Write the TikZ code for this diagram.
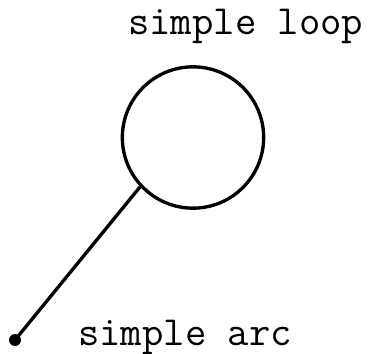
\documentclass[tikz,border=0pt]{standalone}
\usepackage{fontspec}
\usetikzlibrary{positioning}

\begin{document}
\begin{tikzpicture}[x=0.75pt,y=-0.75pt,
  label/.style={font=\ttfamily\fontsize{31.1}{34}\selectfont,inner sep=0pt,anchor=base west},
  loopnode/.style={circle,draw,line width=2.5pt,minimum size=106pt,inner sep=0pt},
  arcline/.style={line width=2.5pt},
  enddot/.style={circle,fill,inner sep=0pt,minimum size=9pt}]
\useasboundingbox (0,0) rectangle (372,354);

% ===== loop and its arc =====
\node[loopnode] (loop) at (193,137.5) {};
\node[enddot] (tail) at (15,340) {};
\draw[arcline] (tail.center) -- (loop.223);

% ===== labels =====
\node[label] (looplbl) at (128,34) {simple loop};
\node[label] (arclbl) at (78,345) {simple arc};
\end{tikzpicture}
\end{document}
